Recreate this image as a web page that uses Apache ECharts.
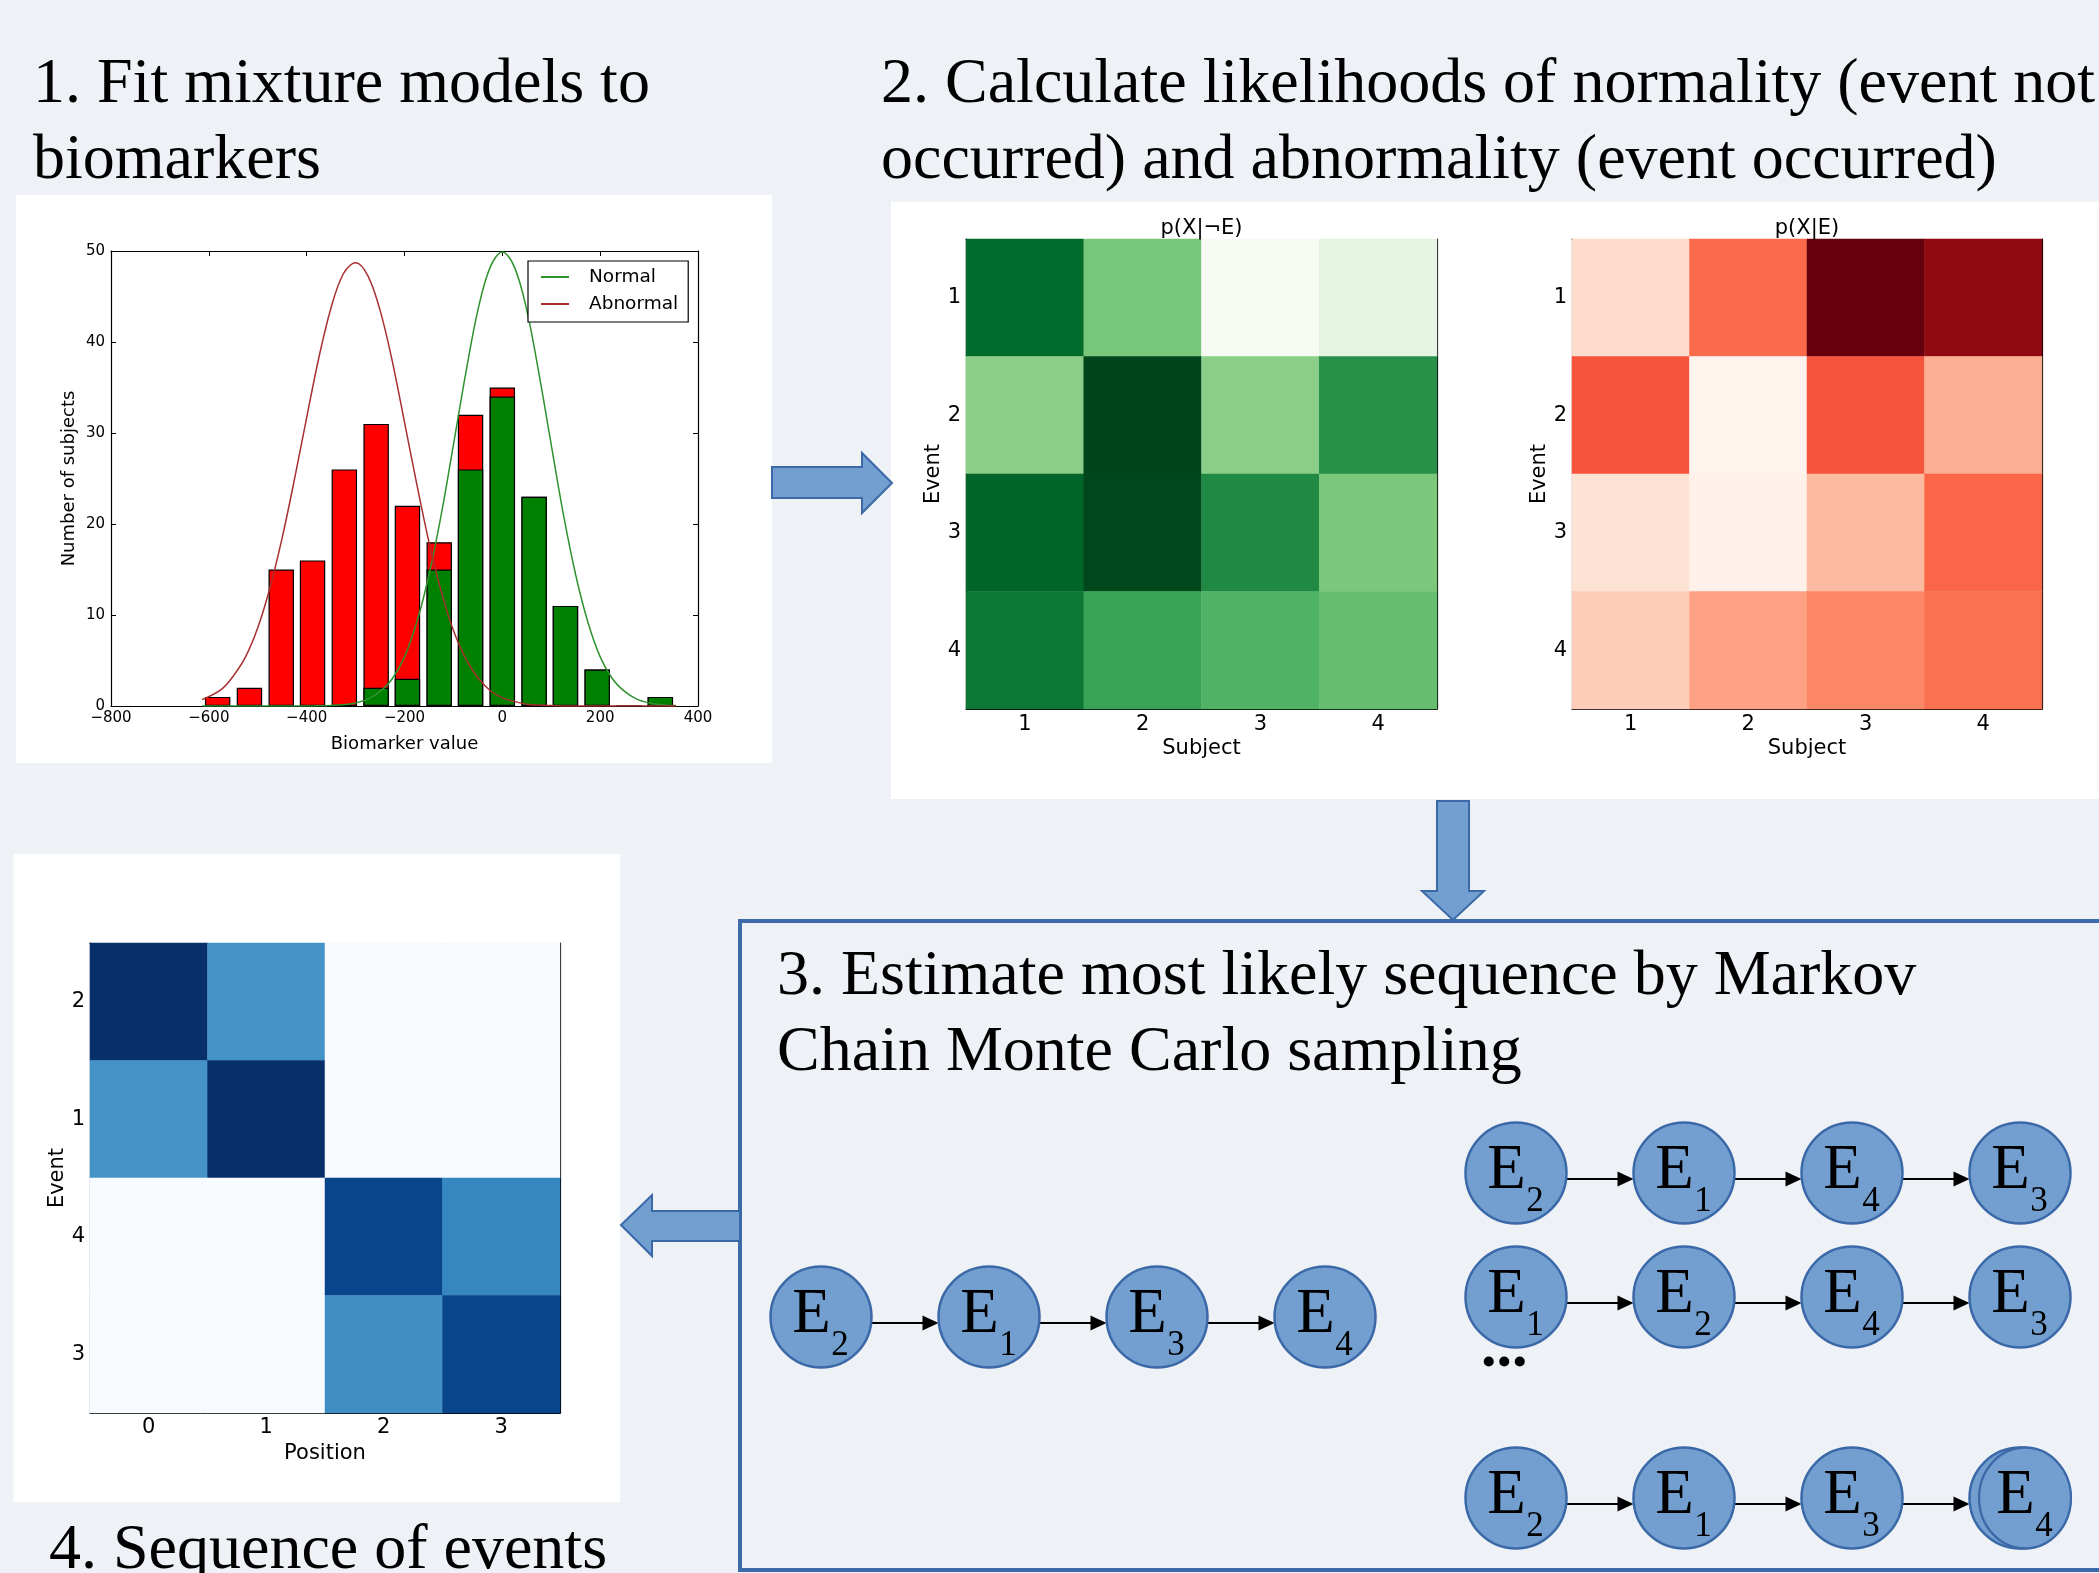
<!DOCTYPE html>
<html>
<head>
<meta charset="utf-8">
<script src="https://cdn.jsdelivr.net/npm/echarts@6/dist/echarts.min.js"></script>
<style>
  html, body { margin: 0; padding: 0; background: #eef1f6; }
  #chart { width: 2099px; height: 1573px; }
</style>
</head>
<body>
<div id="chart"></div>
<script>
// ---------- Panel 1: biomarker histogram and fitted mixture components ----------
const binCenters     = [-582, -517, -452, -388, -323, -258, -194, -129, -65, 0, 65, 129, 194, 259, 323];
const normalCounts   = [0, 0, 0, 0, 0, 2, 3, 15, 26, 34, 23, 11, 4, 0, 1];
const abnormalCounts = [1, 2, 15, 16, 26, 29, 19, 3, 6, 1, 0, 0, 0, 0, 0];
const binWidth = 52;

const curveX      = [-614, -575, -550, -525, -500, -475, -450, -425, -400, -375, -350, -325, -300, -275, -250, -225, -200, -175, -150, -125, -100, -75, -50, -25, 0, 25, 50, 75, 100, 125, 150, 175, 200, 225, 250, 275, 300, 325, 355];
const normalFit   = [0, 0, 0, 0, 0, 0, 0, 0, 0, 0.02, 0.06, 0.14, 0.34, 0.75, 1.6, 3.0, 5.4, 9.2, 14.4, 21.0, 28.7, 36.5, 43.5, 48.2, 49.9, 48.2, 43.5, 36.5, 28.7, 21.0, 14.4, 9.2, 5.4, 3.0, 1.6, 0.75, 0.34, 0.14, 0.05];
const abnormalFit = [0.7, 1.8, 3.3, 5.4, 8.6, 13.0, 18.5, 24.9, 31.7, 38.3, 43.8, 47.5, 48.7, 47.3, 43.5, 37.9, 31.2, 24.4, 18.0, 12.6, 8.3, 5.2, 3.1, 1.7, 0.9, 0.5, 0.2, 0.1, 0.05, 0, 0, 0, 0, 0, 0, 0, 0, 0, 0];

const histXTicks = { min: -800, max: 400, interval: 200 };
const histYTicks = { min: 0, max: 50, interval: 10 };

// ---------- Panel 2: likelihood matrices (rows = events, columns = subjects) ----------
const subjects = ['1', '2', '3', '4'];
const events   = ['1', '2', '3', '4'];
const pXgivenNotE = [
  [0.88, 0.49, 0.01, 0.12],
  [0.44, 1.00, 0.44, 0.73],
  [0.90, 0.99, 0.76, 0.48],
  [0.83, 0.66, 0.59, 0.53]
];
const pXgivenE = [
  [0.14, 0.50, 1.00, 0.92],
  [0.56, 0.01, 0.56, 0.29],
  [0.115, 0.03, 0.25, 0.51],
  [0.19, 0.33, 0.41, 0.48]
];

// ---------- Panel 3: event sequences ----------
const bestSequence = [2, 1, 3, 4];
const sampledSequences = [
  [2, 1, 4, 3],
  [1, 2, 4, 3],
  [2, 1, 3, 4]
];
const sampleLastStacked = [false, false, true];

// ---------- Panel 4: positional variance of the events ----------
const positions = ['0', '1', '2', '3'];
const orderedEvents = ['2', '1', '4', '3'];
const positionProb = [
  [1.00, 0.62, 0, 0],
  [0.62, 1.00, 0, 0],
  [0, 0, 0.92, 0.67],
  [0, 0, 0.64, 0.92]
];

// ---------- styles ----------
const SANS = 'DejaVu Sans';
const SERIF = 'Liberation Serif';
const GREENS = ['#f7fcf5', '#e5f5e0', '#c7e9c0', '#a1d99b', '#74c476', '#41ab5d', '#238b45', '#006d2c', '#00441b'];
const REDS   = ['#fff5f0', '#fee0d2', '#fcbba1', '#fc9272', '#fb6a4a', '#ef3b2c', '#cb181d', '#a50f15', '#67000d'];
const BLUES  = ['#f7fbff', '#deebf7', '#c6dbef', '#9ecae1', '#6baed6', '#4292c6', '#2171b5', '#08519c', '#08306b'];
const NODE_FILL = '#729fcf';
const NODE_STROKE = '#3b69a8';
const ARROW_FILL = '#729fcf';
const ARROW_STROKE = '#3a69a8';

const HIST = { left: 111, top: 251, width: 587, height: 455 };
const HEAT_G = { left: 966, top: 239, width: 471, height: 470 };
const HEAT_R = { left: 1572, top: 239, width: 470, height: 470 };
const HEAT_B = { left: 90, top: 943, width: 470, height: 470 };
const SEQ_STEP = 168;
const NODE_R = 50.5;

function seqGrid(firstCenterX, rowY) {
  return { left: firstCenterX - SEQ_STEP / 2, top: rowY - 50, width: SEQ_STEP * 4, height: 100 };
}

const grids = [
  HIST, HEAT_G, HEAT_R, HEAT_B,
  seqGrid(821, 1317),
  seqGrid(1516, 1173), seqGrid(1516, 1297), seqGrid(1516, 1498)
].map(g => Object.assign({ outerBoundsMode: 'none', containLabel: false, show: false }, g));

const frameLine = { show: true, onZero: false, lineStyle: { color: '#000', width: 1.2 } };
const innerTick = { show: true, inside: true, length: 5, lineStyle: { color: '#000', width: 1 } };

function valueAxis(gridIndex, position, ticks, extra) {
  return Object.assign({
    type: 'value', gridIndex, position,
    min: ticks.min, max: ticks.max, interval: ticks.interval,
    axisLine: frameLine, axisTick: innerTick, splitLine: { show: false },
    axisLabel: { show: false }
  }, extra || {});
}
function catAxis(gridIndex, position, data, extra) {
  return Object.assign({
    type: 'category', gridIndex, position, data,
    axisLine: frameLine,
    axisTick: Object.assign({ alignWithLabel: true }, innerTick),
    splitLine: { show: false },
    axisLabel: { show: false }
  }, extra || {});
}
const minusFmt = v => String(v).replace('-', '\u2212');

const histLabel = { show: true, fontFamily: SANS, fontSize: 15, color: '#000', margin: 5, formatter: minusFmt };
const heatLabel = (m) => ({ show: true, fontFamily: SANS, fontSize: 21, color: '#000', margin: m });
const nameStyle = (fs) => ({ fontFamily: SANS, fontSize: fs, color: '#000' });

const xAxes = [
  valueAxis(0, 'bottom', histXTicks, { axisLabel: histLabel, name: 'Biomarker value', nameLocation: 'middle', nameGap: 29, nameTextStyle: nameStyle(18) }),
  valueAxis(0, 'top', histXTicks),
  catAxis(1, 'bottom', subjects, { axisLabel: heatLabel(5), name: 'Subject', nameLocation: 'middle', nameGap: 29, nameTextStyle: nameStyle(21) }),
  catAxis(1, 'top', subjects),
  catAxis(2, 'bottom', subjects, { axisLabel: heatLabel(5), name: 'Subject', nameLocation: 'middle', nameGap: 29, nameTextStyle: nameStyle(21) }),
  catAxis(2, 'top', subjects),
  catAxis(3, 'bottom', positions, { axisLabel: heatLabel(4), name: 'Position', nameLocation: 'middle', nameGap: 30, nameTextStyle: nameStyle(21) }),
  catAxis(3, 'top', positions)
];
const yAxes = [
  valueAxis(0, 'left', histYTicks, { axisLabel: Object.assign({}, histLabel, { margin: 6 }), name: 'Number of subjects', nameLocation: 'middle', nameGap: 33, nameTextStyle: nameStyle(18) }),
  valueAxis(0, 'right', histYTicks),
  catAxis(1, 'left', events, { inverse: true, axisLabel: heatLabel(5), name: 'Event', nameLocation: 'middle', nameGap: 16, nameTextStyle: nameStyle(21) }),
  catAxis(1, 'right', events, { inverse: true }),
  catAxis(2, 'left', events, { inverse: true, axisLabel: heatLabel(5), name: 'Event', nameLocation: 'middle', nameGap: 16, nameTextStyle: nameStyle(21) }),
  catAxis(2, 'right', events, { inverse: true }),
  catAxis(3, 'left', orderedEvents, { inverse: true, axisLabel: heatLabel(5), name: 'Event', nameLocation: 'middle', nameGap: 16, nameTextStyle: nameStyle(21) }),
  catAxis(3, 'right', orderedEvents, { inverse: true })
];
for (let g = 4; g < 8; g++) {
  xAxes.push({ type: 'value', gridIndex: g, min: -0.5, max: 3.5, show: false });
  yAxes.push({ type: 'value', gridIndex: g, min: -1, max: 1, show: false });
}

function matrixData(m) {
  const out = [];
  m.forEach((row, r) => row.forEach((v, c) => out.push([c, r, v])));
  return out;
}

function heatSeries(axisIndex, m) {
  return {
    type: 'heatmap', xAxisIndex: axisIndex, yAxisIndex: axisIndex,
    data: matrixData(m), itemStyle: { borderWidth: 0 },
    emphasis: { disabled: true }, progressive: 0
  };
}

function sequenceSeries(axisIndex, seq, stackedLast) {
  return {
    type: 'custom', coordinateSystem: 'cartesian2d',
    xAxisIndex: axisIndex, yAxisIndex: axisIndex, clip: false,
    data: seq.map((ev, i) => [i, 0, ev]),
    encode: { x: 0, y: 1 },
    renderItem: function (params, api) {
      const i = api.value(0);
      const ev = api.value(2);
      const c = api.coord([i, 0]);
      const isLast = i === seq.length - 1;
      const children = [];
      if (!isLast) {
        const n = api.coord([i + 1, 0]);
        const y = c[1] + 6;
        const x0 = c[0] + NODE_R;
        const x1 = n[0] - NODE_R;
        const head = 16;
        children.push({ type: 'line', shape: { x1: x0, y1: y, x2: x1 - head + 1, y2: y }, style: { stroke: '#000', lineWidth: 1.8 } });
        children.push({ type: 'polygon', shape: { points: [[x1 - head, y - 7.5], [x1, y], [x1 - head, y + 7.5]] }, style: { fill: '#000' } });
      }
      const nodeStyle = { fill: NODE_FILL, stroke: NODE_STROKE, lineWidth: 2.5 };
      children.push({ type: 'circle', shape: { cx: c[0], cy: c[1], r: NODE_R }, style: nodeStyle });
      let dx = 0;
      if (isLast && stackedLast) {
        dx = 5;
        children.push({ type: 'circle', x: c[0] + dx, y: c[1], scaleX: 0.91, shape: { cx: 0, cy: 0, r: NODE_R }, style: nodeStyle });
      }
      children.push({ type: 'text', style: { text: 'E', x: c[0] - 9.5 + dx, y: c[1] - 2, fontSize: 63, fontFamily: SERIF, fill: '#000', align: 'center', verticalAlign: 'middle' } });
      children.push({ type: 'text', style: { text: String(ev), x: c[0] + 19 + dx, y: c[1] + 29, fontSize: 35, fontFamily: SERIF, fill: '#000', align: 'center', verticalAlign: 'middle' } });
      return { type: 'group', children };
    }
  };
}

// Each bar shows all subjects in the bin (red) with the normal share drawn over it (green).
const barW = binWidth * HIST.width / (histXTicks.max - histXTicks.min);
const series = [
  {
    type: 'bar', xAxisIndex: 0, yAxisIndex: 0, barWidth: barW,
    data: binCenters.map((x, i) => [x, normalCounts[i] + abnormalCounts[i]]),
    itemStyle: { color: '#ff0000', borderColor: '#000', borderWidth: 1.2 },
    emphasis: { disabled: true }
  },
  {
    type: 'bar', xAxisIndex: 0, yAxisIndex: 0, barWidth: barW, barGap: '-100%',
    data: binCenters.map((x, i) => [x, normalCounts[i]]),
    itemStyle: { color: '#008000', borderColor: '#000', borderWidth: 1.2 },
    emphasis: { disabled: true }
  },
  {
    type: 'line', name: 'Normal', xAxisIndex: 0, yAxisIndex: 0,
    data: curveX.map((x, i) => [x, normalFit[i]]),
    showSymbol: false, smooth: 0.35,
    lineStyle: { color: '#2e922e', width: 1.5 }, itemStyle: { color: '#2e922e' }
  },
  {
    type: 'line', name: 'Abnormal', xAxisIndex: 0, yAxisIndex: 0,
    data: curveX.map((x, i) => [x, abnormalFit[i]]),
    showSymbol: false, smooth: 0.35,
    lineStyle: { color: '#a83030', width: 1.5 }, itemStyle: { color: '#a83030' }
  },
  heatSeries(2, pXgivenNotE),   // series 4
  heatSeries(4, pXgivenE),      // series 5
  heatSeries(6, positionProb),  // series 6
  sequenceSeries(8, bestSequence, false)
];
sampledSequences.forEach((seq, k) => series.push(sequenceSeries(9 + k, seq, sampleLastStacked[k])));

function heading(text, x, baseline) {
  return {
    type: 'text', z: 5, silent: true,
    style: { text, x, y: baseline - 21.6, fontSize: 64, fontFamily: SERIF, fill: '#000', align: 'left', verticalAlign: 'middle' }
  };
}
function smallTitle(text, x, y) {
  return {
    type: 'text', z: 5, silent: true,
    style: { text, x, y, fontSize: 21, fontFamily: SANS, fill: '#000', align: 'center', verticalAlign: 'middle' }
  };
}
function panel(x, y, w, h) {
  return { type: 'rect', z: -1, silent: true, shape: { x, y, width: w, height: h }, style: { fill: '#ffffff' } };
}
function blockArrow(points) {
  return { type: 'polygon', z: 5, silent: true, shape: { points }, style: { fill: ARROW_FILL, stroke: ARROW_STROKE, lineWidth: 2 } };
}

const graphics = [
  panel(16, 195, 756, 568),
  panel(891, 202, 1208, 597),
  panel(13.5, 854, 606.5, 648),
  { type: 'rect', z: -1, silent: true, shape: { x: 740, y: 921, width: 1400, height: 649 }, style: { fill: 'none', stroke: '#3d6aa9', lineWidth: 4 } },
  blockArrow([[772, 467], [862, 467], [862, 453], [892, 483], [862, 513], [862, 498], [772, 498]]),
  blockArrow([[1437, 801], [1469, 801], [1469, 891], [1484, 891], [1453, 920], [1422, 891], [1437, 891]]),
  blockArrow([[740, 1211], [652, 1211], [652, 1195], [621, 1225], [652, 1256], [652, 1241], [740, 1241]]),
  heading('1. Fit mixture models to', 33, 107),
  heading('biomarkers', 33, 183),
  heading('2. Calculate likelihoods of normality (event not', 881, 107),
  heading('occurred) and abnormality (event occurred)', 881, 183),
  heading('3. Estimate most likely sequence by Markov', 777, 999),
  heading('Chain Monte Carlo sampling', 777, 1075),
  heading('4. Sequence of events', 49, 1573),
  smallTitle('p(X|\u00acE)', 1201.5, 229),
  smallTitle('p(X|E)', 1807, 229),
  {
    type: 'text', z: 5, silent: true,
    style: { text: '...', x: 1481, y: 1350, fontSize: 62, fontWeight: 'bold', fontFamily: SERIF, fill: '#000', align: 'left', verticalAlign: 'middle' }
  }
];

const option = {
  animation: false,
  backgroundColor: '#eef1f6',
  grid: grids,
  xAxis: xAxes,
  yAxis: yAxes,
  legend: {
    data: ['Normal', 'Abnormal'],
    orient: 'vertical', left: 528, top: 261,
    icon: 'rect', itemWidth: 28, itemHeight: 2, itemGap: 7,
    padding: [6, 10, 8, 13],
    backgroundColor: '#ffffff', borderColor: '#000', borderWidth: 1.2, borderRadius: 0,
    textStyle: { fontFamily: SANS, fontSize: 18.5, color: '#000', lineHeight: 20, padding: [0, 0, 0, 15] },
    selectedMode: false
  },
  visualMap: [
    { type: 'continuous', show: false, seriesIndex: 4, min: 0, max: 1, dimension: 2, inRange: { color: GREENS } },
    { type: 'continuous', show: false, seriesIndex: 5, min: 0, max: 1, dimension: 2, inRange: { color: REDS } },
    { type: 'continuous', show: false, seriesIndex: 6, min: 0, max: 1, dimension: 2, inRange: { color: BLUES } }
  ],
  graphic: graphics,
  series
};

const chart = echarts.init(document.getElementById('chart'), null, { renderer: 'canvas', width: 2099, height: 1573 });
chart.setOption(option);
</script>
</body>
</html>
